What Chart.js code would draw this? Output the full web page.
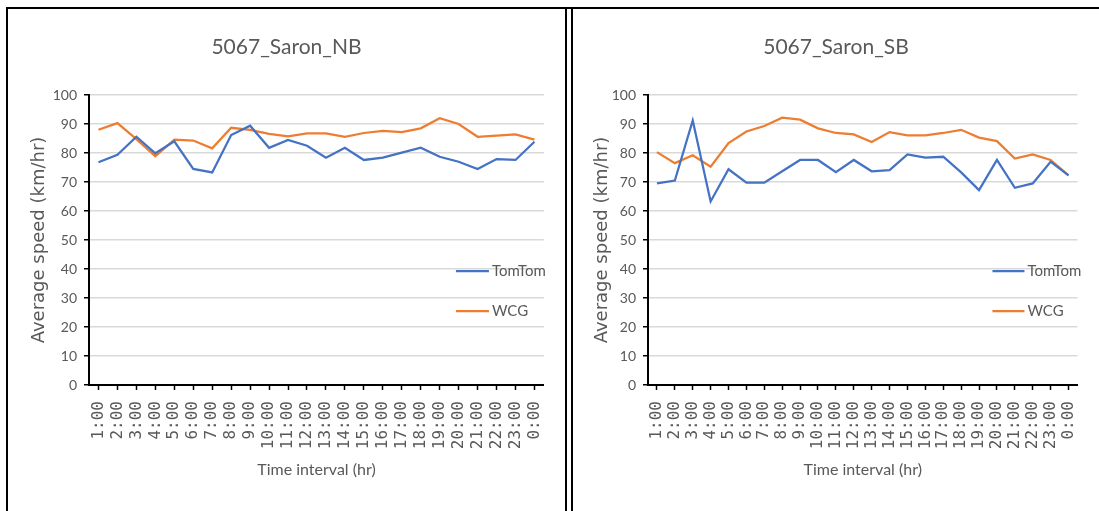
<!DOCTYPE html>
<html>
<head>
<meta charset="utf-8">
<script src="https://cdn.jsdelivr.net/npm/chart.js@4"></script>
<style>
  html, body { margin: 0; padding: 0; background: #fff; }
  body { width: 1099px; height: 511px; position: relative; overflow: hidden; }
  .frame { position: absolute; background: #000; }
  canvas { position: absolute; }
</style>
</head>
<body>
<div class="frame" style="left:6px; top:7px; width:1093px; height:2px;"></div>
<div class="frame" style="left:6px; top:7px; width:2px; height:504px;"></div>
<div class="frame" style="left:565px; top:7px; width:2px; height:504px;"></div>
<div class="frame" style="left:571px; top:7px; width:2px; height:504px;"></div>
<canvas id="nb" width="557" height="502" style="left:8px; top:9px; width:557px; height:502px;"></canvas>
<canvas id="sb" width="526" height="502" style="left:573px; top:9px; width:526px; height:502px;"></canvas>
<script>
// Hourly time intervals
const hours = ['1:00','2:00','3:00','4:00','5:00','6:00','7:00','8:00','9:00','10:00','11:00','12:00',
               '13:00','14:00','15:00','16:00','17:00','18:00','19:00','20:00','21:00','22:00','23:00','0:00'];

// Average speed (km/hr), northbound
const nbTomTom = [76.8, 79.4, 85.6, 79.9, 84.0, 74.5, 73.3, 86.2, 89.4, 81.8, 84.5, 82.5,
                  78.4, 81.8, 77.6, 78.4, 80.1, 81.8, 78.7, 77.0, 74.5, 77.9, 77.6, 83.9];
const nbWCG    = [88.0, 90.3, 84.8, 78.9, 84.6, 84.3, 81.6, 88.7, 88.0, 86.6, 85.7, 86.8,
                  86.8, 85.6, 86.9, 87.6, 87.2, 88.5, 92.0, 90.0, 85.6, 86.0, 86.4, 84.6];

// Average speed (km/hr), southbound
const sbTomTom = [69.5, 70.5, 91.2, 63.3, 74.4, 69.8, 69.8, 73.7, 77.6, 77.6, 73.4, 77.6,
                  73.7, 74.1, 79.5, 78.4, 78.7, 73.3, 67.2, 77.6, 68.0, 69.5, 77.0, 72.3];
const sbWCG    = [80.3, 76.5, 79.2, 75.3, 83.4, 87.4, 89.3, 92.2, 91.5, 88.5, 86.9, 86.4,
                  83.8, 87.2, 86.1, 86.1, 86.9, 88.0, 85.3, 84.1, 78.1, 79.5, 77.6, 72.3];

const yTicks = [0, 10, 20, 30, 40, 50, 60, 70, 80, 90, 100];

const TEXT = '#595959';
const BLUE = '#4472C4';
const ORANGE = '#ED7D31';

// Chart title and series key drawn onto the canvas
const panelDecor = {
  id: 'panelDecor',
  afterDraw(chart, args, opts) {
    const ctx = chart.ctx;
    const area = chart.chartArea;
    ctx.save();
    ctx.fillStyle = TEXT;
    ctx.font = '21px Lato';
    ctx.textAlign = 'center';
    ctx.textBaseline = 'middle';
    ctx.fillText(opts.title, chart.width / 2, opts.titleY);

    ctx.font = '15px Lato';
    ctx.textAlign = 'left';
    chart.data.datasets.forEach((ds, i) => {
      const y = area.top + opts.keyTop + i * opts.keyGap;
      const x0 = area.right - opts.keyRight;
      ctx.strokeStyle = ds.borderColor;
      ctx.lineWidth = 2.25;
      ctx.beginPath();
      ctx.moveTo(x0, y);
      ctx.lineTo(x0 + opts.keyLen, y);
      ctx.stroke();
      ctx.fillStyle = TEXT;
      ctx.fillText(ds.label, x0 + opts.keyLen + 3, y);
    });
    ctx.restore();
  }
};

function makeChart(id, title, tomtom, wcg, geo) {
  return new Chart(document.getElementById(id), {
    type: 'line',
    data: {
      labels: hours,
      datasets: [
        { label: 'TomTom', data: tomtom, borderColor: BLUE, backgroundColor: BLUE,
          borderWidth: 2.25, pointRadius: 0, tension: 0, fill: false },
        { label: 'WCG', data: wcg, borderColor: ORANGE, backgroundColor: ORANGE,
          borderWidth: 2.25, pointRadius: 0, tension: 0, fill: false }
      ]
    },
    options: {
      responsive: false,
      animation: false,
      devicePixelRatio: 1,
      layout: { padding: { top: 86, right: geo.padRight, left: 0, bottom: 0 } },
      plugins: {
        legend: { display: false },
        title: { display: false },
        tooltip: { enabled: false },
        panelDecor: { title: title, titleY: 38, keyTop: 176, keyGap: 40,
                      keyRight: geo.keyRight, keyLen: geo.keyLen }
      },
      scales: {
        x: {
          type: 'category',
          offset: true,
          afterFit(scale) { scale.height = 126; },
          grid: { display: true, drawOnChartArea: false, offset: false,
                  tickLength: 5, tickColor: '#000', tickWidth: 1.5 },
          border: { display: true, color: '#000', width: 2 },
          ticks: { autoSkip: false, minRotation: 90, maxRotation: 90, padding: 11,
                   color: TEXT, font: { family: 'DejaVu Sans Mono', size: 16 } },
          title: { display: true, text: 'Time interval (hr)', color: TEXT,
                   font: { family: 'Lato', size: 16 }, padding: { top: 0, bottom: 32 } }
        },
        y: {
          min: 0, max: 100,
          afterFit(scale) { scale.width = geo.yWidth; },
          afterBuildTicks(scale) { scale.ticks = yTicks.map(v => ({ value: v })); },
          grid: { color: '#d9d9d9', lineWidth: 1.5, tickLength: 5, tickColor: '#000', tickWidth: 1.5 },
          border: { display: true, color: '#000', width: 2 },
          ticks: { padding: 7, color: TEXT, font: { family: 'Lato', size: 14 } },
          title: { display: true, text: 'Average speed (km/hr)', color: TEXT,
                   font: { family: 'DejaVu Sans', size: 18 }, padding: { top: geo.yTitlePad, bottom: 0 } }
        }
      }
    },
    plugins: [panelDecor]
  });
}

makeChart('nb', '5067_Saron_NB', nbTomTom, nbWCG,
          { padRight: 16, yWidth: 81, yTitlePad: 21, keyRight: 88, keyLen: 33 });
makeChart('sb', '5067_Saron_SB', sbTomTom, sbWCG,
          { padRight: 14, yWidth: 75, yTitlePad: 19, keyRight: 85, keyLen: 32 });
</script>
</body>
</html>
